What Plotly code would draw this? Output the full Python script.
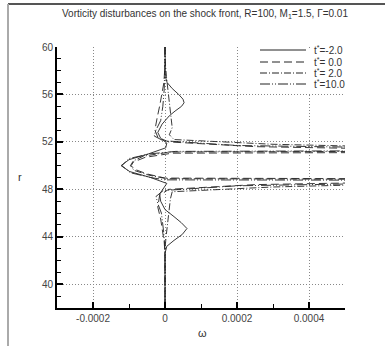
import plotly.graph_objects as go

# ---- data (omega values in units of 1e-6) ----
r_m2 = [60, 58.5, 57.5, 57.0, 56.5, 56.0, 55.6, 55.3, 55.0, 54.6, 54.2, 53.5, 52.8, 52.3, 51.9, 51.5,
        51.0, 50.5, 50.0, 49.5, 49.0, 48.5, 48.1, 47.6, 47.0, 46.3, 45.7, 45.2, 44.7, 44.2, 43.7, 43.2,
        42.6, 42.0, 38]
w_m2 = [0, 0, 1, 6, 20, 38, 50, 53, 46, 28, 12, -8, -20, -12, 5, 2,
        -45, -100, -122, -98, -40, 5, -5, -15, -12, 0, 25, 45, 61, 48, 25, 5,
        0, 0, 0]

r_0 = [60, 58.5, 57.0, 56.0, 55.0, 54.0, 53.0, 52.4, 52.0, 51.6, 51.15, 51.05, 50.7, 50.3, 50.0,
       49.7, 49.3, 48.95, 48.85, 48.4, 48.0, 47.5, 46.5, 45.5, 44.5, 43.5, 42.5, 38]
w_0 = [0, 0, -3, -8, -15, -22, -28, -20, 10, 250, 1100, 20, -55, -88, -94,
       -85, -50, 0, 1100, 250, 10, -15, -20, -12, -6, -2, 0, 0]

r_2 = [60, 59, 57.5, 56, 54.5, 53.2, 52.6, 52.2, 51.8, 51.25, 51.15, 50.8, 50.4, 50.0, 49.6,
       49.2, 48.9, 48.8, 48.2, 47.8, 47.2, 46.0, 45.0, 44.0, 43.0, 38]
w_2 = [0, 0, 4, 9, 14, 20, 12, 25, 300, 1100, 15, -60, -88, -96, -86,
       -45, 5, 1100, 300, 20, 15, 10, 6, 3, 0, 0]

r_10 = [60, 58, 56.5, 55, 53.8, 53.0, 52.5, 52.1, 51.7, 51.3, 51.2, 51.0, 50.6, 50.0, 49.4,
        49.0, 48.8, 48.75, 48.3, 47.9, 47.4, 46.8, 46.0, 44.5, 43.0, 38]
w_10 = [0, 0, -2, -6, -12, -25, -30, -5, 200, 1100, 30, -40, -100, -120, -96,
        -40, 0, 1100, 200, -5, -25, -20, -10, -4, 0, 0]

labels = ["t<sup>*</sup>=-2.0", "t<sup>*</sup>= 0.0", "t<sup>*</sup>= 2.0", "t<sup>*</sup>=10.0"]
dashes = ["solid", "8px,4px", "7px,2px,1px,2px", "10px,2px,1px,2px,1px,2px"]
series = [(r_m2, w_m2), (r_0, w_0), (r_2, w_2), (r_10, w_10)]

x_ticks = [-0.0002, 0, 0.0002, 0.0004]
x_ticktext = ["-0.0002", "0", "0.0002", "0.0004"]
x_minor = [-0.0003, -0.0001, 0.0001, 0.0003, 0.0005]
y_ticks = [40, 44, 48, 52, 56, 60]

fig = go.Figure()
for (r, w), lab, d in zip(series, labels, dashes):
    fig.add_trace(go.Scatter(x=[v * 1e-6 for v in w], y=r, mode="lines", name=lab,
                             line=dict(color="#222", width=0.9, dash=d), showlegend=False))

# geometry helpers (plot area px: left 57, right 345, top 47, bottom 308)
L, R, T, B = 57, 345, 47, 308
def px(x): return (x - L) / (R - L)
def py(y): return (B - y) / (B - T)

shapes = []
annotations = []
# legend box
shapes.append(dict(type="rect", xref="paper", yref="paper", x0=px(246), x1=px(345), y0=py(93), y1=py(48),
                   fillcolor="white", line=dict(width=0), layer="above"))
rows = [50, 62, 73, 84]
for yy, lab, d in zip(rows, labels, dashes):
    shapes.append(dict(type="line", xref="paper", yref="paper", x0=px(260), x1=px(306), y0=py(yy), y1=py(yy),
                       line=dict(color="#222", width=1, dash=d), layer="above"))
    annotations.append(dict(text=lab, xref="paper", yref="paper", x=px(312), y=py(yy), xanchor="left",
                            yanchor="middle", showarrow=False, font=dict(size=10, color="#333")))
# outer frame lines
shapes.append(dict(type="line", xref="paper", yref="paper", x0=px(8), x1=px(386), y0=py(4), y1=py(4),
                   line=dict(color="#555", width=2)))
shapes.append(dict(type="line", xref="paper", yref="paper", x0=px(8), x1=px(8), y0=py(4), y1=py(347),
                   line=dict(color="#aaa", width=2)))

annotations.append(dict(text="Vorticity disturbances on the shock front, R=100, M<sub>1</sub>=1.5, \u0393=0.01",
                        xref="paper", yref="paper", x=px(205), y=py(14), showarrow=False,
                        xanchor="center", yanchor="middle", font=dict(size=10, color="#333")))
annotations.append(dict(text="\u03c9", xref="paper", yref="paper", x=px(202), y=py(333), showarrow=False,
                        xanchor="center", yanchor="middle", font=dict(size=11, color="#333")))
annotations.append(dict(text="r", xref="paper", yref="paper", x=px(20), y=py(177), showarrow=False,
                        xanchor="center", yanchor="middle", font=dict(size=11, color="#333")))

fig.update_layout(
    width=385, height=346, margin=dict(l=L, r=385 - R, t=T, b=346 - B),
    paper_bgcolor="white", plot_bgcolor="white",
    font=dict(family="Liberation Sans, Arial, sans-serif", size=10, color="#444"),
    shapes=shapes, annotations=annotations, showlegend=False,
)
fig.update_xaxes(range=[-0.0003, 0.0005], tickmode="array", tickvals=x_ticks, ticktext=x_ticktext,
                 ticks="inside", ticklen=6, tickwidth=2, tickcolor="black",
                 showline=True, linewidth=2, linecolor="black", zeroline=False,
                 showgrid=True, gridcolor="#888", griddash="1px,2px", gridwidth=1,
                 minor=dict(tickmode="array", tickvals=x_minor, ticks="inside", ticklen=4, tickwidth=1,
                            tickcolor="black", showgrid=False),
                 tickfont=dict(size=10, color="#444"))
fig.update_yaxes(range=[38, 60], tickmode="array", tickvals=y_ticks,
                 ticks="inside", ticklen=6, tickwidth=2, tickcolor="black",
                 showline=True, linewidth=2, linecolor="black", zeroline=False,
                 showgrid=True, gridcolor="#888", griddash="1px,2px", gridwidth=1,
                 minor=dict(dtick=1, tick0=0, ticks="inside", ticklen=4, tickwidth=1,
                            tickcolor="black", showgrid=False),
                 tickfont=dict(size=10, color="#444"))

fig.write_html("out.html")
